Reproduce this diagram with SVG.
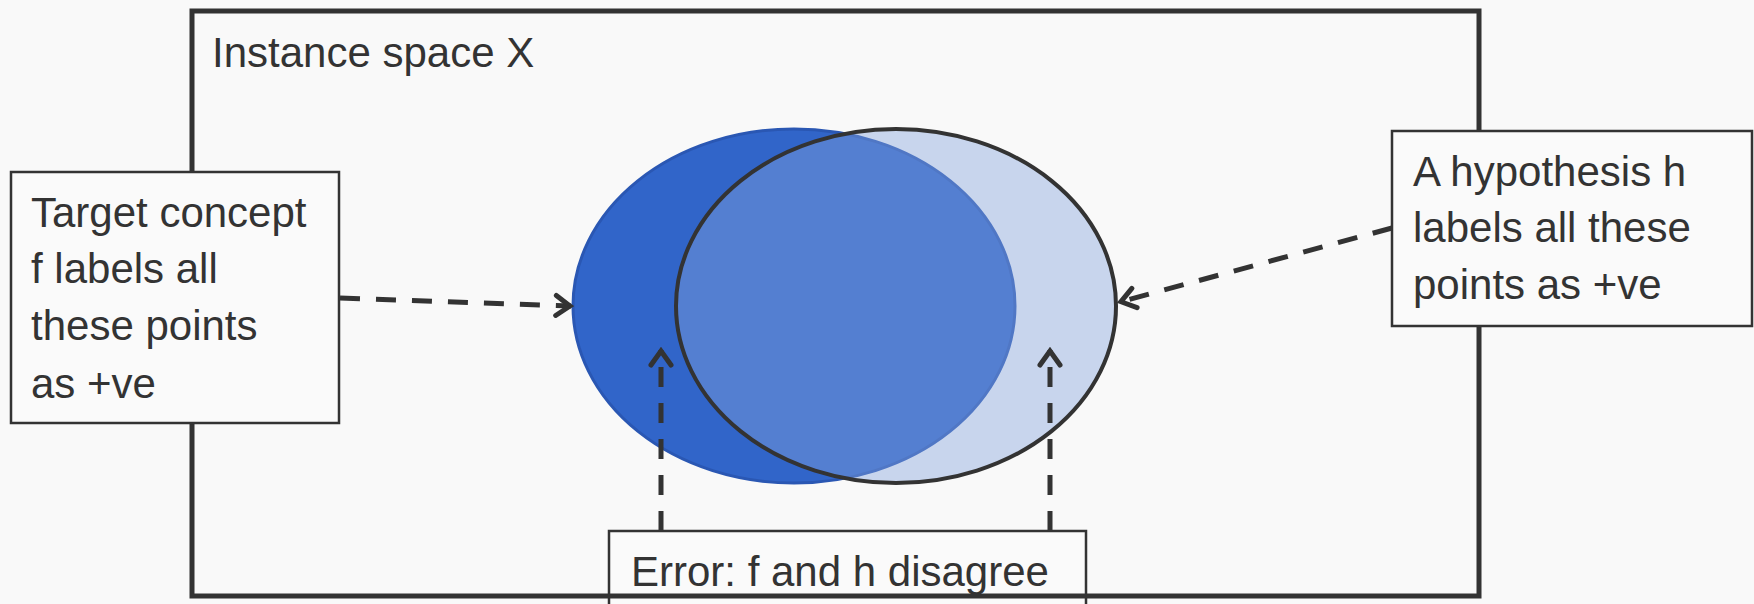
<svg xmlns="http://www.w3.org/2000/svg" width="1754" height="604" viewBox="0 0 1754 604">
<style>
text{font-family:"Liberation Sans",Arial,sans-serif;font-size:42px;fill:#333}
.box{fill:#fafafa;stroke:#333;stroke-width:2.5}
.dash{fill:none;stroke:#333;stroke-width:5;stroke-dasharray:20 16}
</style>
<defs>
<marker id="arr" markerUnits="userSpaceOnUse" markerWidth="22" markerHeight="26" viewBox="0 0 22 26" refX="19" refY="13" orient="auto">
<path d="M4,3 L18,13 L4,23" fill="none" stroke="#333" stroke-width="5" stroke-linecap="round" stroke-linejoin="miter"/>
</marker>
</defs>
<rect width="1754" height="604" fill="#f9f9f9"/>
<g id="error-box">
<rect class="box" x="609" y="531" width="477" height="90"/>
<text x="631" y="586">Error: f and h disagree</text>
</g>
<g id="instance-space">
<rect x="192" y="11" width="1287" height="585" fill="none" stroke="#333" stroke-width="5"/>
<text x="212" y="67">Instance space X</text>
</g>
<g id="concept-f">
<ellipse cx="794" cy="306" rx="221" ry="177" fill="#3165c9" stroke="#2a57b3" stroke-width="3"/>
</g>
<g id="hypothesis-h">
<ellipse cx="896" cy="306" rx="220" ry="177" fill="rgb(134,165,221)" fill-opacity="0.42" stroke="#333" stroke-width="4"/>
</g>
<g id="target-box">
<rect class="box" x="11" y="172" width="328" height="251"/>
<text x="31" y="227">Target concept</text>
<text x="31" y="283">f labels all</text>
<text x="31" y="340">these points</text>
<text x="31" y="398">as +ve</text>
</g>
<g id="hyp-box">
<rect class="box" x="1392" y="131" width="360" height="195"/>
<text x="1413" y="186">A hypothesis h</text>
<text x="1413" y="242">labels all these</text>
<text x="1413" y="299">points as +ve</text>
</g>
<g id="connectors">
<path class="dash" d="M340,298 L571,306" marker-end="url(#arr)"/>
<path class="dash" d="M1392,228 L1120,302" marker-end="url(#arr)"/>
<path class="dash" d="M661,531 L661,350" marker-end="url(#arr)"/>
<path class="dash" d="M1050,531 L1050,350" marker-end="url(#arr)"/>
</g>
</svg>
